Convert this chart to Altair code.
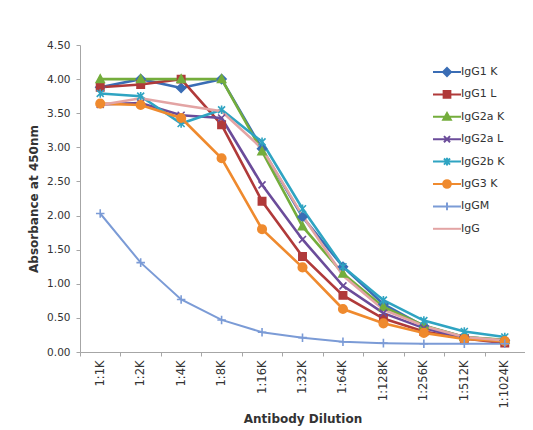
import altair as alt
import pandas as pd

dilutions = ["1:1K", "1:2K", "1:4K", "1:8K", "1:16K", "1:32K", "1:64K",
             "1:128K", "1:256K", "1:512K", "1:1024K"]

series = ["IgG1 K", "IgG1 L", "IgG2a K", "IgG2a L", "IgG2b K", "IgG3 K", "IgGM", "IgG"]

igg1_k = [3.88, 4.00, 3.87, 4.00, 2.98, 1.98, 1.25, 0.70, 0.38, 0.22, 0.17]
igg1_l = [3.88, 3.92, 4.00, 3.33, 2.21, 1.40, 0.83, 0.49, 0.30, 0.20, 0.13]
igg2a_k = [4.00, 4.00, 4.00, 4.00, 2.94, 1.84, 1.15, 0.66, 0.39, 0.22, 0.18]
igg2a_l = [3.63, 3.65, 3.47, 3.43, 2.45, 1.65, 0.97, 0.57, 0.35, 0.20, 0.16]
igg2b_k = [3.79, 3.75, 3.35, 3.55, 3.08, 2.10, 1.25, 0.76, 0.46, 0.30, 0.22]
igg3_k = [3.64, 3.62, 3.43, 2.84, 1.80, 1.24, 0.63, 0.42, 0.28, 0.19, 0.16]
iggm = [2.03, 1.31, 0.77, 0.47, 0.29, 0.21, 0.15, 0.13, 0.12, 0.12, 0.12]
igg = [3.62, 3.72, 3.62, 3.53, 2.98, 2.00, 1.12, 0.62, 0.38, 0.22, 0.17]

values = [igg1_k, igg1_l, igg2a_k, igg2a_l, igg2b_k, igg3_k, iggm, igg]

colors = ["#3a6db5", "#b03a3a", "#74ad3c", "#6b4c9a", "#2fa4c2", "#ef8a2e", "#7b9bd6", "#e3a4a4"]
widths = [2.6, 2.6, 2.6, 2.6, 2.6, 2.6, 2.0, 2.6]

# marker shapes (unit paths) for the plotted points (None = no marker)
pt_shapes = [
    "M0,-1.15L1.15,0L0,1.15L-1.15,0Z",
    "M-0.95,-0.95L0.95,-0.95L0.95,0.95L-0.95,0.95Z",
    "M0,-1.1L1.05,0.85L-1.05,0.85Z",
    "M-0.9,-0.9L0.9,0.9M-0.9,0.9L0.9,-0.9",
    "M-0.9,-0.9L0.9,0.9M-0.9,0.9L0.9,-0.9M0,-1.1L0,1.1",
    "M-1.1,0A1.1,1.1,0,1,0,1.1,0A1.1,1.1,0,1,0,-1.1,0Z",
    "M-1.1,0L1.1,0M0,-1.1L0,1.1",
    None,
]

# legend symbols: line segment plus marker
ln = "M-1.75,0L1.75,0"
lg_shapes = [
    ln + "M0,-0.5L0.5,0L0,0.5L-0.5,0Z",
    ln + "M-0.42,-0.42L0.42,-0.42L0.42,0.42L-0.42,0.42Z",
    ln + "M0,-0.48L0.48,0.38L-0.48,0.38Z",
    ln + "M-0.38,-0.38L0.38,0.38M-0.38,0.38L0.38,-0.38",
    ln + "M-0.38,-0.38L0.38,0.38M-0.38,0.38L0.38,-0.38M0,-0.48L0,0.48",
    ln + "M-0.48,0A0.48,0.48,0,1,0,0.48,0A0.48,0.48,0,1,0,-0.48,0Z",
    ln + "M0,-0.48L0,0.48",
    ln,
]

rows = []
for s, vals in zip(series, values):
    for d, v in zip(dilutions, vals):
        rows.append({"series": s, "dilution": d, "value": v})
df = pd.DataFrame(rows)

legend = alt.Legend(
    title=None, orient="none", legendX=358, legendY=18,
    symbolSize=256, labelOffset=5, rowPadding=5.4, padding=0,
    symbolOpacity=1, symbolStrokeWidth=2,
    labelFont="DejaVu Sans", labelFontSize=11, labelColor="#333333",
)

xenc = alt.X(
    "dilution:N", sort=dilutions, bandPosition=0.5,
    scale=alt.Scale(type="band", paddingInner=0, paddingOuter=0),
    axis=alt.Axis(
        title="Antibody Dilution", labelAngle=270, tickBand="extent",
        labelFont="DejaVu Sans", labelFontSize=11.5, labelColor="#333333",
        labelPadding=4, tickSize=4, tickColor="#a6a6a6", domainColor="#a6a6a6",
        titleFont="DejaVu Sans", titleFontSize=12, titleFontWeight="bold",
        titleColor="#333333", titlePadding=6,
    ),
)
yenc = alt.Y(
    "value:Q",
    scale=alt.Scale(domain=[0, 4.5], nice=False),
    axis=alt.Axis(
        title="Absorbance  at 450nm", values=[0, 0.5, 1, 1.5, 2, 2.5, 3, 3.5, 4, 4.5],
        format=".2f", grid=False, labelFont="DejaVu Sans", labelFontSize=10.5,
        labelColor="#333333", labelPadding=6, tickSize=4, tickColor="#a6a6a6",
        domainColor="#a6a6a6", titleFont="DejaVu Sans", titleFontSize=12,
        titleFontWeight="bold", titleColor="#333333", titlePadding=6,
    ),
)
color_scale = alt.Scale(domain=series, range=colors)
color = alt.Color("series:N", scale=color_scale, legend=legend)
stroke = alt.Stroke("series:N", scale=color_scale, legend=legend)

line_layers = []
for s, w in zip(series, widths):
    line_layers.append(
        alt.Chart(df).transform_filter(alt.datum.series == s)
        .mark_line(interpolate="linear", strokeWidth=w)
        .encode(x=xenc, y=yenc, color=color)
    )

point_layers = []
for s, shp in zip(series, pt_shapes):
    if shp is None:
        continue
    point_layers.append(
        alt.Chart(df).transform_filter(alt.datum.series == s).mark_point(
            filled=True, size=60, strokeWidth=1.6, opacity=1, shape=shp
        ).encode(x=xenc, y=yenc, color=color, stroke=stroke)
    )

legend_layer = alt.Chart(df).mark_point(filled=True, opacity=0, strokeWidth=2).encode(
    x=xenc, y=yenc, color=color, stroke=stroke,
    shape=alt.Shape("series:N", scale=alt.Scale(domain=series, range=lg_shapes), legend=legend),
)

chart = alt.layer(*line_layers, *point_layers, legend_layer).properties(
    width=445, height=307,
    autosize=alt.AutoSizeParams(type="none"),
    padding={"left": 72, "top": 37, "right": 0, "bottom": 76},
    background="white",
).configure_view(stroke=None)

chart.save("out.html", embed_options={"renderer": "svg", "actions": False})
